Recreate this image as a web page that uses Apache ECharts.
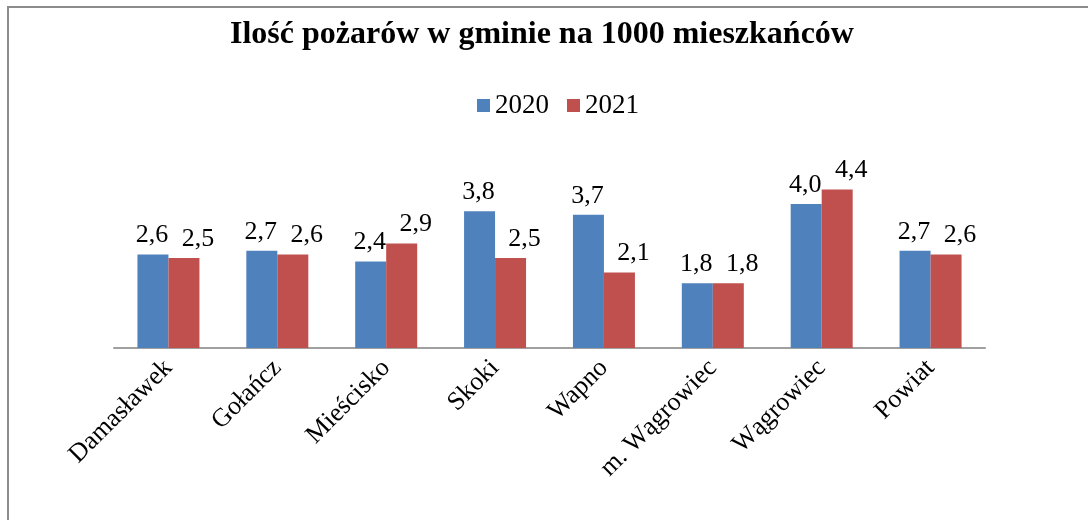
<!DOCTYPE html>
<html>
<head>
<meta charset="utf-8">
<script src="https://cdn.jsdelivr.net/npm/echarts@6/dist/echarts.min.js"></script>
<style>
  html, body { margin: 0; padding: 0; background: #fff; }
  #chart { width: 1088px; height: 520px; }
</style>
</head>
<body>
<div id="chart"></div>
<script>
const categories = ['Damasławek', 'Gołańcz', 'Mieścisko', 'Skoki', 'Wapno', 'm. Wągrowiec', 'Wągrowiec', 'Powiat']
const values2020 = [2.6, 2.7, 2.4, 3.8, 3.7, 1.8, 4.0, 2.7]
const values2021 = [2.5, 2.6, 2.9, 2.5, 2.1, 1.8, 4.4, 2.6]

const serif = '"Liberation Serif", "Times New Roman", serif'
const fmt = (p) => p.value.toFixed(1).replace('.', ',')

const chart = echarts.init(document.getElementById('chart'))
const option = {
  animation: false,
  textStyle: { fontFamily: serif },
  graphic: [
    {
      type: 'rect',
      shape: { x: 8, y: 7, width: 1200, height: 600 },
      style: { fill: 'none', stroke: '#8c8c8c', lineWidth: 2 },
      silent: true
    }
  ],
  title: {
    text: 'Ilość pożarów w gminie na 1000 mieszkańców',
    left: 225,
    top: 14,
    textStyle: { fontFamily: serif, fontSize: 32, fontWeight: 'bold', color: '#000' }
  },
  legend: {
    top: 92,
    left: 477,
    padding: 0,
    itemWidth: 13,
    itemHeight: 13,
    itemGap: 18,
    icon: 'rect',
    textStyle: { fontFamily: serif, fontSize: 27, color: '#000' },
    data: ['2020', '2021']
  },
  grid: {
    top: 168,
    left: 114,
    right: 103,
    bottom: 172
  },
  xAxis: {
    type: 'category',
    data: categories,
    axisTick: { show: false },
    axisLine: { lineStyle: { color: '#a0a0a0', width: 2 } },
    axisLabel: {
      interval: 0,
      rotate: 45,
      margin: 16,
      fontFamily: serif,
      fontSize: 26,
      color: '#000'
    }
  },
  yAxis: {
    type: 'value',
    min: 0,
    max: 5,
    show: false
  },
  series: [
    {
      name: '2020',
      type: 'bar',
      barWidth: 31,
      barGap: '0%',
      itemStyle: { color: '#4f81bd' },
      label: { show: true, position: 'top', distance: 6, offset: [-1, 0], formatter: fmt, fontFamily: serif, fontSize: 26, color: '#000' },
      data: values2020
    },
    {
      name: '2021',
      type: 'bar',
      barWidth: 31,
      barGap: '0%',
      itemStyle: { color: '#c0504d' },
      label: { show: true, position: 'top', distance: 6, offset: [14, 0], formatter: fmt, fontFamily: serif, fontSize: 26, color: '#000' },
      data: values2021
    }
  ]
}
chart.setOption(option)
</script>
</body>
</html>
